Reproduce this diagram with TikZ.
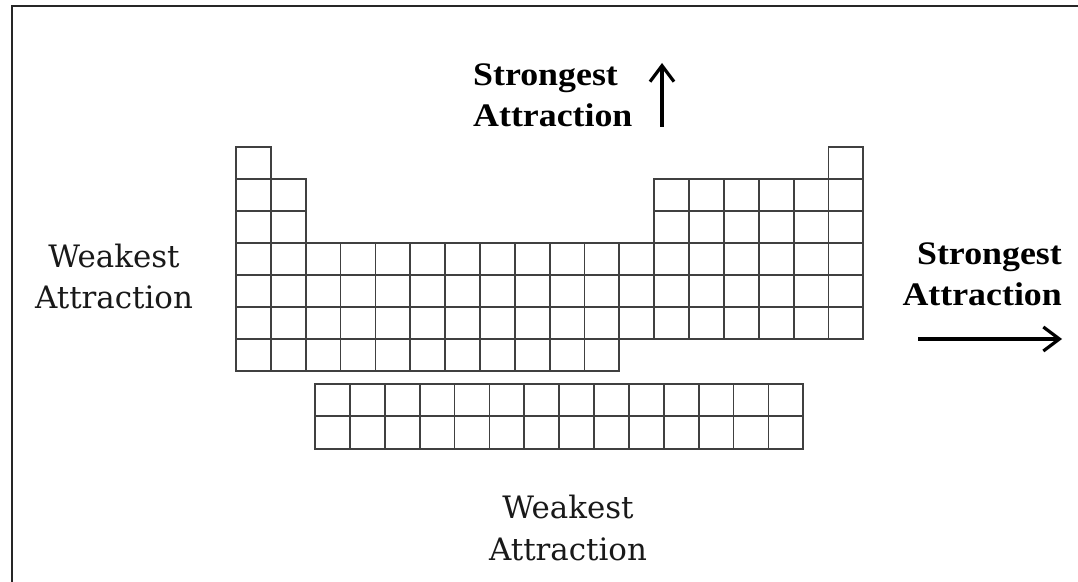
\documentclass[tikz,border=0pt]{standalone}
\usepackage{fontspec}
\usetikzlibrary{arrows.meta}
\newfontfamily\strongfont[FakeStretch=1.09]{Liberation Serif}
\newfontfamily\weakfont{DejaVu Serif}
\begin{document}
\begin{tikzpicture}[x=1bp,y=-1bp,
  cell/.style={draw=black!75, line width=1.8bp},
  strong/.style={font=\strongfont\bfseries\fontsize{33}{42}\selectfont, inner sep=0pt, text=black},
  weak/.style={font=\weakfont\fontsize{31}{42}\selectfont, inner sep=0pt, text=black!90, align=center},
  arr/.style={line width=3.2bp, -{Straight Barb[length=16bp, width=24bp, line width=3.2bp]}}]
\useasboundingbox (0,0) rectangle (1078,582);
\fill[white] (0,0) rectangle (1078,582);
% frame (top and left edges only)
\draw[line width=2bp, black!85] (12,582) -- (12,6) -- (1078,6);
% main table
\foreach \c/\ra/\rb in {1/1/7, 2/2/7, 3/4/7, 4/4/7, 5/4/7, 6/4/7, 7/4/7, 8/4/7, 9/4/7, 10/4/7, 11/4/7, 12/4/6, 13/2/6, 14/2/6, 15/2/6, 16/2/6, 17/2/6, 18/1/6}
  \foreach \r in {\ra,...,\rb}
    \draw[cell] ({236+(\c-1)*34.85},{147+(\r-1)*32}) rectangle +(34.85,32);
% f-block
\foreach \c in {0,...,13}
  \foreach \r in {0,1}
    \draw[cell] ({315+\c*34.88},{384+\r*32.3}) rectangle +(34.88,32.3);
% labels (anchor = baseline of the last line)
\node[strong, anchor=base west, align=left] (topS) at (473,127) {Strongest\\Attraction};
\node[strong, anchor=base east, align=right] (rightS) at (1062,306) {Strongest\\Attraction};
\node[weak, anchor=base] (leftW) at (114,309) {Weakest\\Attraction};
\node[weak, anchor=base] (botW) at (568,560) {Weakest\\Attraction};
% arrows
\coordinate (upS) at (662,127);
\coordinate (upE) at (662,63);
\coordinate (rtS) at (918,339);
\coordinate (rtE) at (1062,339);
\draw[arr] (upS) -- (upE);
\draw[arr] (rtS) -- (rtE);
\end{tikzpicture}
\end{document}
